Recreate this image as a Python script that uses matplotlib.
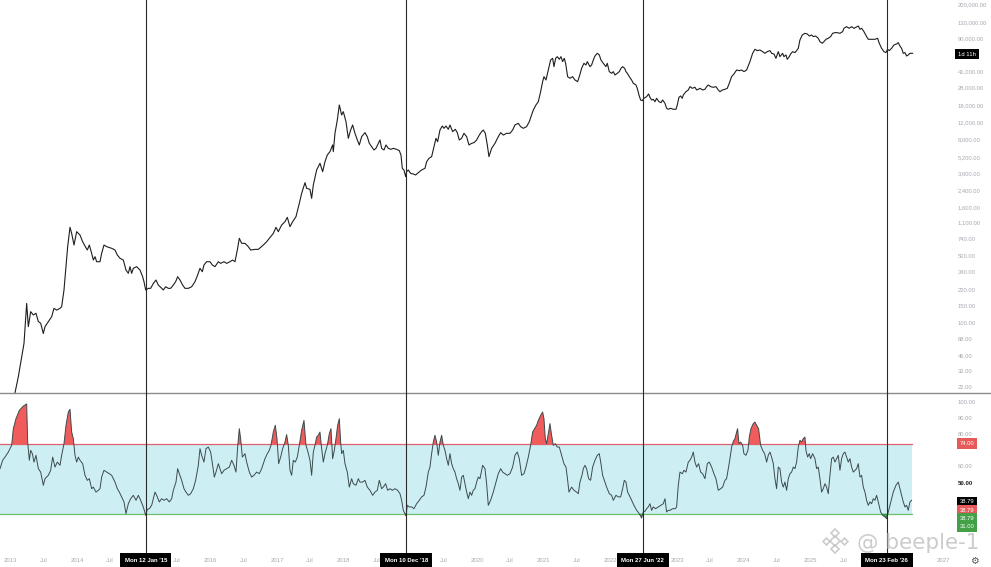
import matplotlib
matplotlib.use("Agg")
import matplotlib.pyplot as plt
import numpy as np
from matplotlib.transforms import blended_transform_factory as blend
from matplotlib.lines import Line2D

plt.rcParams['font.family'] = ['Liberation Sans', 'DejaVu Sans']

# ---------------- data (decimal years) ----------------
price_years = [
    2012.844, 2012.95, 2013.03,
    2013.069, 2013.119, 2013.169, 2013.204, 2013.244, 2013.269, 2013.304, 2013.344, 2013.384, 2013.419,
    2013.454, 2013.494, 2013.519, 2013.569, 2013.619, 2013.654, 2013.694, 2013.744, 2013.769, 2013.804,
    2013.834, 2013.859, 2013.894, 2013.919, 2013.954, 2013.994, 2014.044, 2014.084, 2014.124, 2014.154,
    2014.184, 2014.219, 2014.244, 2014.269, 2014.294, 2014.344, 2014.369, 2014.404, 2014.444, 2014.519,
    2014.569, 2014.604, 2014.644, 2014.694, 2014.734, 2014.769, 2014.794, 2014.819, 2014.844, 2014.894,
    2014.944, 2014.984, 2015.004, 2015.029, 2015.069, 2015.104, 2015.144, 2015.184, 2015.219, 2015.254,
    2015.294, 2015.329, 2015.369, 2015.404, 2015.444, 2015.479, 2015.509, 2015.544, 2015.584, 2015.619,
    2015.669, 2015.719, 2015.769, 2015.809, 2015.844, 2015.879, 2015.904, 2015.944, 2015.994, 2016.029,
    2016.069, 2016.119, 2016.154, 2016.204, 2016.244, 2016.294, 2016.334, 2016.369, 2016.404, 2016.434,
    2016.469, 2016.519, 2016.569, 2016.604, 2016.669, 2016.719, 2016.794, 2016.844,
    2016.944, 2016.984, 2017.019, 2017.069, 2017.119, 2017.154, 2017.194, 2017.234, 2017.284, 2017.334,
    2017.369, 2017.419, 2017.444, 2017.494, 2017.519, 2017.544, 2017.594, 2017.644, 2017.684, 2017.719,
    2017.754, 2017.794, 2017.834, 2017.844, 2017.869, 2017.904, 2017.934, 2017.969, 2017.994, 2018.034,
    2018.069, 2018.104, 2018.134, 2018.169, 2018.204, 2018.234, 2018.269, 2018.319, 2018.354, 2018.384,
    2018.419, 2018.454, 2018.484, 2018.519, 2018.544, 2018.569, 2018.604, 2018.634, 2018.669, 2018.704,
    2018.744, 2018.794, 2018.834, 2018.859, 2018.879, 2018.904, 2018.929, 2018.944, 2018.969, 2019.004,
    2019.044, 2019.079, 2019.119, 2019.169, 2019.219, 2019.244, 2019.279, 2019.319, 2019.354, 2019.384,
    2019.409, 2019.444, 2019.479, 2019.504, 2019.534, 2019.569, 2019.594, 2019.634, 2019.674, 2019.704,
    2019.734, 2019.769, 2019.804, 2019.844, 2019.879, 2019.919, 2019.954, 2019.994, 2020.034, 2020.069,
    2020.094, 2020.124, 2020.154, 2020.179, 2020.219, 2020.269, 2020.319, 2020.354, 2020.394, 2020.444,
    2020.494, 2020.534, 2020.569, 2020.619, 2020.654, 2020.694, 2020.744, 2020.784,
    2020.844, 2020.884, 2020.919, 2020.954, 2020.984, 2021.004, 2021.034, 2021.069, 2021.104, 2021.134,
    2021.154, 2021.179, 2021.204, 2021.234, 2021.259, 2021.284, 2021.309, 2021.329, 2021.359, 2021.394,
    2021.434, 2021.469, 2021.509, 2021.534, 2021.569, 2021.604, 2021.634, 2021.654, 2021.694, 2021.719,
    2021.744, 2021.769, 2021.804, 2021.834, 2021.859, 2021.894, 2021.934, 2021.954, 2021.984, 2022.019,
    2022.044, 2022.069, 2022.104, 2022.134, 2022.159, 2022.184, 2022.214, 2022.234, 2022.254, 2022.284,
    2022.319, 2022.344, 2022.384, 2022.404, 2022.429, 2022.454, 2022.479, 2022.504, 2022.544, 2022.574,
    2022.594, 2022.619, 2022.644, 2022.669, 2022.694, 2022.729, 2022.759, 2022.784, 2022.819, 2022.844,
    2022.869, 2022.904, 2022.944, 2022.984, 2023.004, 2023.029, 2023.054, 2023.079, 2023.094, 2023.134,
    2023.169, 2023.194, 2023.229, 2023.269, 2023.294, 2023.319, 2023.344, 2023.384, 2023.419, 2023.444,
    2023.469, 2023.504, 2023.544, 2023.584, 2023.619, 2023.644, 2023.684, 2023.719, 2023.754, 2023.784,
    2023.819, 2023.854, 2023.894, 2023.934, 2023.969, 2024.004, 2024.044, 2024.069, 2024.094, 2024.134,
    2024.169, 2024.204, 2024.244, 2024.284, 2024.319, 2024.354, 2024.394, 2024.419, 2024.454, 2024.484,
    2024.519, 2024.544, 2024.584, 2024.604, 2024.634, 2024.654, 2024.684, 2024.704, 2024.734, 2024.769,
    2024.794, 2024.819, 2024.844, 2024.879, 2024.919, 2024.954, 2024.984, 2025.019, 2025.044, 2025.079,
    2025.119, 2025.144, 2025.179, 2025.204, 2025.234, 2025.269, 2025.304, 2025.334, 2025.369, 2025.404,
    2025.444, 2025.484, 2025.504, 2025.544, 2025.584, 2025.619, 2025.654, 2025.684, 2025.719, 2025.744,
    2025.769, 2025.804, 2025.844, 2025.869, 2025.919, 2025.969, 2026.009, 2026.034, 2026.069, 2026.104,
    2026.134, 2026.159, 2026.184, 2026.219, 2026.254, 2026.294, 2026.319, 2026.344, 2026.369, 2026.394,
    2026.419, 2026.444, 2026.469, 2026.494, 2026.534,
]
price_values = [
    12.5, 13.4, 16.0,
    19.2, 28.2, 45.4, 62.4, 162, 93, 133, 123, 128, 105,
    101, 79, 93, 105, 118, 144, 138, 144, 150, 223,
    389, 627, 995, 861, 652, 897, 828, 706, 627, 579,
    652, 535, 456, 494, 438, 438, 535, 652, 627, 603,
    579, 514, 475, 456, 359, 332, 389, 332, 374, 389,
    359, 306, 272, 223, 232, 232, 261, 283, 251, 238,
    223, 241, 232, 232, 251, 272, 306, 283, 251, 232,
    232, 241, 272, 319, 374, 345, 405, 438, 438, 405,
    389, 438, 421, 438, 421, 438, 456, 438, 579, 765,
    679, 679, 627, 579, 588, 588, 652, 706,
    861, 995, 897, 1051, 1138, 1262, 1010, 1138, 1282, 1763,
    2239, 2886, 2523, 2462, 1986, 2730, 3908, 4581, 3752, 4764,
    5588, 6053, 7096, 6053, 9370, 12880, 18420, 14510, 15710, 12380,
    8318, 10140, 11430, 9370, 7993, 7096, 8650, 9520, 8650, 7380,
    6820, 6295, 6548, 7380, 7993, 6548, 6295, 7096, 6548, 6395,
    6548, 6395, 6196, 5588, 4064, 3908, 3333, 3752, 3908, 3606,
    3550, 3467, 3665, 3908, 4064, 4764, 5160, 5370, 6820, 8318,
    7680, 10140, 11160, 10560, 11160, 10310, 11430, 9750, 10310, 9520,
    7993, 8318, 9370, 8650, 7096, 7380, 7500, 7993, 8995, 9750,
    10140, 9370, 7096, 5370, 6548, 7380, 8650, 9520, 8995, 9370,
    9370, 10140, 11430, 11890, 10990, 10560, 10990, 12380,
    16350, 18420, 19930, 25300, 32140, 36220, 33450, 42450, 53900, 56080,
    46000, 56080, 58350, 54800, 58350, 51860, 56080, 49780, 36220, 34830,
    36220, 33450, 32140, 36220, 44190, 49780, 47860, 51860, 46000, 47860,
    53900, 59300, 63200, 60800, 53900, 49780, 46000, 49780, 40810, 39240,
    40810, 37670, 39240, 40810, 44190, 46000, 44190, 40810, 39240, 36220,
    33450, 30900, 29720, 27420, 23380, 20750, 20420, 21600, 22490, 23970,
    22130, 20750, 21090, 19930, 21600, 19930, 19480, 20750, 19170, 17020,
    16630, 17020, 16630, 16630, 18420, 22130, 22850, 21600, 23380, 25300,
    26360, 28530, 27420, 28110, 26360, 26790, 27420, 26360, 26790, 28530,
    29720, 28530, 28110, 28530, 26360, 25300, 26360, 26790, 27420, 30900,
    36220, 38620, 42450, 41780, 42450, 40810, 42450, 46770, 51860, 63200,
    69500, 67420, 68400, 65770, 63200, 65770, 67420, 63200, 62230, 56080,
    65770, 58350, 63200, 58350, 60800, 54800, 58350, 62230, 65770, 64270,
    67420, 71240, 86900, 97950, 101850, 100250, 95500, 97950, 94170, 95500,
    90400, 83500, 80300, 83500, 88300, 90400, 94170, 101850, 103500, 103500,
    101850, 106000, 114800, 119400, 114800, 119400, 114800, 117500, 121300, 112100,
    114800, 106000, 94170, 88300, 88300, 88300, 90400, 80300, 71240, 65770,
    64270, 69500, 67420, 71240, 77100, 79000, 81500, 75300, 71240, 63200,
    64270, 59300, 60800, 63200, 63200,
]

rsi_years = [
    2012.844, 2012.884, 2012.919, 2012.969, 2013.019, 2013.044, 2013.084, 2013.134, 2013.194, 2013.244,
    2013.259, 2013.284, 2013.304, 2013.329, 2013.354, 2013.384, 2013.419, 2013.454, 2013.494, 2013.519,
    2013.569, 2013.604, 2013.634, 2013.669, 2013.704, 2013.744, 2013.769, 2013.804, 2013.834, 2013.869,
    2013.894, 2013.919, 2013.944, 2013.969, 2013.994, 2014.019, 2014.044, 2014.084, 2014.119, 2014.154,
    2014.184, 2014.219, 2014.244, 2014.284, 2014.319, 2014.344, 2014.369, 2014.404, 2014.444, 2014.484,
    2014.519, 2014.569, 2014.604, 2014.634, 2014.669, 2014.704, 2014.734, 2014.769, 2014.804, 2014.844,
    2014.884, 2014.919, 2014.944, 2014.984, 2015.009, 2015.029, 2015.054, 2015.084, 2015.119, 2015.144,
    2015.169, 2015.194, 2015.234, 2015.269, 2015.304, 2015.344, 2015.384, 2015.419, 2015.444, 2015.484,
    2015.509, 2015.534, 2015.569, 2015.604, 2015.634, 2015.669, 2015.704, 2015.744, 2015.779, 2015.819,
    2015.844, 2015.869, 2015.904, 2015.934, 2015.969, 2016.004, 2016.034, 2016.059, 2016.084, 2016.119,
    2016.144, 2016.169, 2016.204, 2016.244, 2016.284, 2016.319, 2016.354, 2016.384, 2016.409, 2016.434,
    2016.454, 2016.479, 2016.519, 2016.544, 2016.584, 2016.619, 2016.654, 2016.694, 2016.734, 2016.769,
    2016.794, 2016.819, 2016.854, 2016.884, 2016.909, 2016.944, 2016.974, 2016.999, 2017.024, 2017.054,
    2017.084, 2017.119, 2017.144, 2017.169, 2017.194, 2017.219, 2017.244, 2017.274, 2017.304, 2017.334,
    2017.369, 2017.404, 2017.434, 2017.464, 2017.494, 2017.519, 2017.544, 2017.569, 2017.594, 2017.619,
    2017.644, 2017.669, 2017.694, 2017.719, 2017.754, 2017.784, 2017.809, 2017.834, 2017.859, 2017.884,
    2017.909, 2017.934, 2017.954, 2017.969, 2017.994, 2018.019, 2018.054, 2018.084, 2018.119, 2018.144,
    2018.184, 2018.219, 2018.244, 2018.284, 2018.319, 2018.354, 2018.394, 2018.434, 2018.469, 2018.504,
    2018.534, 2018.569, 2018.594, 2018.629, 2018.659, 2018.694, 2018.729, 2018.769, 2018.809, 2018.844,
    2018.869, 2018.894, 2018.919, 2018.934, 2018.954, 2018.984, 2019.019, 2019.054, 2019.094, 2019.134,
    2019.169, 2019.204, 2019.234, 2019.269, 2019.294, 2019.319, 2019.344, 2019.369, 2019.394, 2019.419,
    2019.444, 2019.469, 2019.494, 2019.519, 2019.544, 2019.569, 2019.594, 2019.619, 2019.644, 2019.669,
    2019.694, 2019.719, 2019.744, 2019.769, 2019.794, 2019.819, 2019.844, 2019.869, 2019.894, 2019.919,
    2019.944, 2019.969, 2019.994, 2020.019, 2020.044, 2020.084, 2020.119, 2020.144, 2020.169, 2020.204,
    2020.244, 2020.284, 2020.319, 2020.354, 2020.384, 2020.419, 2020.454, 2020.494, 2020.534, 2020.569,
    2020.604, 2020.634, 2020.669, 2020.704, 2020.734, 2020.769, 2020.804, 2020.834, 2020.869, 2020.894,
    2020.919, 2020.954, 2020.984, 2021.004, 2021.024, 2021.044, 2021.074, 2021.094, 2021.119, 2021.144,
    2021.174, 2021.204, 2021.234, 2021.269, 2021.304, 2021.334, 2021.354, 2021.379, 2021.419, 2021.454,
    2021.494, 2021.519, 2021.544, 2021.574, 2021.594, 2021.619, 2021.644, 2021.674, 2021.704, 2021.734,
    2021.769, 2021.804, 2021.834, 2021.859, 2021.884, 2021.919, 2021.944, 2021.984, 2022.019, 2022.044,
    2022.084, 2022.119, 2022.154, 2022.184, 2022.209, 2022.234, 2022.259, 2022.284, 2022.319, 2022.354,
    2022.394, 2022.434, 2022.469, 2022.494, 2022.519, 2022.544, 2022.569, 2022.594, 2022.619, 2022.644,
    2022.679, 2022.719, 2022.754, 2022.794, 2022.819, 2022.844, 2022.869, 2022.894, 2022.934, 2022.974,
    2022.994, 2023.019, 2023.044, 2023.079, 2023.104, 2023.134, 2023.169, 2023.194, 2023.219, 2023.244,
    2023.269, 2023.294, 2023.324, 2023.354, 2023.384, 2023.419, 2023.454, 2023.484, 2023.519, 2023.554,
    2023.584, 2023.619, 2023.654, 2023.684, 2023.719, 2023.744, 2023.769, 2023.794, 2023.819, 2023.844,
    2023.869, 2023.894, 2023.909, 2023.929, 2023.954, 2023.984, 2024.004, 2024.034, 2024.064, 2024.084,
    2024.109, 2024.144, 2024.169, 2024.194, 2024.224, 2024.254, 2024.284, 2024.314, 2024.344, 2024.369,
    2024.394, 2024.419, 2024.444, 2024.469, 2024.494, 2024.519, 2024.544, 2024.569, 2024.594, 2024.619,
    2024.644, 2024.669, 2024.694, 2024.719, 2024.744, 2024.769, 2024.794, 2024.819, 2024.844, 2024.869,
    2024.894, 2024.919, 2024.934, 2024.959, 2024.984, 2025.004, 2025.034, 2025.069, 2025.094, 2025.119,
    2025.144, 2025.169, 2025.194, 2025.219, 2025.244, 2025.269, 2025.294, 2025.319, 2025.344, 2025.369,
    2025.394, 2025.419, 2025.444, 2025.469, 2025.494, 2025.519, 2025.544, 2025.569, 2025.594, 2025.619,
    2025.644, 2025.669, 2025.694, 2025.719, 2025.744, 2025.769, 2025.794, 2025.819, 2025.844, 2025.869,
    2025.894, 2025.919, 2025.944, 2025.969, 2025.994, 2026.019, 2026.054, 2026.084, 2026.119, 2026.144,
    2026.169, 2026.194, 2026.219, 2026.244, 2026.284, 2026.319, 2026.344, 2026.369, 2026.394, 2026.419,
    2026.444, 2026.469, 2026.494, 2026.519,
]
rsi_values = [
    58.9, 64.1, 66.1, 69.2, 73.4, 83.7, 89.9, 95.0, 97.7, 99.0,
    75.4, 64.1, 70.3, 68.2, 63.0, 67.2, 58.9, 56.8, 48.6, 52.7,
    54.8, 57.9, 66.1, 59.9, 63.0, 61.0, 67.2, 74.4, 85.8, 94.0,
    95.7, 81.6, 77.5, 67.2, 63.0, 66.1, 64.1, 62.0, 54.8, 51.7,
    52.7, 46.5, 47.5, 44.4, 45.5, 46.5, 53.7, 57.9, 56.8, 55.8,
    54.8, 50.6, 46.5, 44.4, 41.4, 38.3, 31.0, 37.2, 40.3, 42.4,
    39.3, 42.4, 40.3, 36.2, 33.1, 30.0, 33.7, 34.1, 36.2, 40.3,
    44.4, 42.4, 38.3, 40.3, 39.3, 40.3, 38.3, 40.3, 45.5, 50.6,
    58.9, 55.8, 51.7, 46.5, 44.4, 42.4, 43.4, 46.5, 51.7, 61.0,
    71.3, 67.2, 63.0, 71.3, 72.3, 69.2, 61.0, 53.7, 56.8, 62.0,
    58.9, 55.8, 57.9, 58.9, 59.9, 64.1, 61.0, 56.8, 72.3, 83.7,
    77.5, 66.1, 68.2, 63.0, 56.8, 53.7, 54.8, 56.8, 55.8, 58.9,
    62.0, 65.1, 68.2, 70.3, 73.4, 81.6, 85.8, 77.5, 62.0, 66.1,
    71.3, 75.4, 80.0, 73.4, 57.9, 54.8, 64.1, 63.0, 66.1, 73.4,
    82.7, 88.8, 73.4, 69.2, 64.1, 54.8, 69.2, 73.4, 78.5, 79.6,
    81.6, 71.3, 63.0, 68.2, 73.4, 80.6, 83.7, 65.1, 70.3, 77.5,
    85.8, 89.9, 75.4, 68.2, 70.3, 62.0, 56.8, 47.5, 52.7, 49.6,
    48.6, 52.7, 50.6, 50.6, 51.7, 47.5, 45.5, 42.4, 44.4, 45.5,
    51.7, 46.5, 47.5, 49.6, 45.5, 46.5, 45.5, 46.5, 45.5, 43.4,
    39.3, 33.1, 31.0, 29.6, 36.2, 35.2, 35.2, 34.1, 37.2, 39.3,
    41.4, 42.4, 47.5, 56.8, 59.9, 68.2, 75.4, 79.6, 75.4, 67.2,
    75.4, 79.6, 73.4, 70.3, 65.1, 61.0, 68.2, 62.0, 58.9, 56.8,
    52.7, 49.6, 45.5, 53.7, 54.8, 49.6, 44.4, 40.3, 44.4, 42.4,
    45.5, 46.5, 50.6, 53.7, 52.7, 61.0, 58.9, 49.6, 36.2, 39.3,
    44.4, 50.6, 55.8, 58.9, 56.8, 55.8, 54.8, 55.8, 59.9, 67.2,
    69.2, 65.1, 54.8, 55.8, 59.9, 66.1, 73.4, 81.6, 84.1, 85.8,
    88.8, 91.9, 94.0, 89.9, 77.5, 74.4, 81.6, 86.8, 79.6, 73.4,
    74.4, 72.3, 72.3, 67.2, 62.0, 59.9, 53.7, 44.4, 47.5, 45.5,
    44.4, 43.4, 50.6, 54.8, 58.9, 61.0, 58.9, 52.7, 51.7, 59.9,
    64.1, 67.2, 68.2, 62.0, 54.8, 50.6, 47.5, 43.4, 42.4, 39.3,
    42.4, 41.4, 41.4, 46.5, 51.7, 50.6, 44.4, 42.4, 39.3, 36.2,
    33.1, 31.0, 28.3, 32.1, 32.5, 34.1, 35.2, 37.2, 33.1, 35.2,
    34.1, 35.2, 36.2, 37.2, 40.3, 32.1, 33.1, 33.1, 34.1, 34.1,
    35.2, 48.6, 56.8, 55.8, 57.9, 56.8, 63.0, 64.1, 66.1, 69.2,
    63.0, 59.9, 62.0, 56.8, 55.8, 52.7, 62.0, 63.0, 59.9, 55.8,
    52.7, 45.5, 46.5, 47.5, 51.7, 52.7, 58.9, 65.1, 72.3, 75.8,
    77.5, 81.6, 83.7, 74.4, 75.4, 73.4, 68.2, 67.2, 70.3, 78.5,
    83.7, 86.8, 87.8, 85.8, 83.7, 73.4, 70.3, 68.2, 63.0, 67.2,
    69.2, 66.1, 62.0, 52.7, 46.5, 59.9, 58.9, 50.6, 47.5, 50.6,
    45.5, 52.7, 55.8, 56.8, 59.9, 58.9, 63.0, 72.3, 76.5, 75.4,
    77.5, 78.5, 70.3, 66.1, 68.2, 65.1, 68.2, 65.1, 58.9, 59.9,
    52.7, 44.4, 46.5, 49.6, 47.5, 43.4, 54.8, 65.1, 66.1, 63.0,
    65.1, 67.2, 57.9, 65.1, 68.2, 69.2, 66.1, 63.0, 65.1, 59.9,
    56.8, 57.9, 58.9, 62.0, 53.7, 54.8, 47.5, 44.4, 39.3, 36.2,
    38.3, 37.2, 40.3, 39.3, 42.4, 38.3, 32.1, 30.0, 29.0, 27.9,
    32.1, 36.2, 40.3, 44.4, 48.6, 50.6, 46.5, 42.4, 38.3, 35.2,
    36.2, 33.1, 38.3, 39.3,
]

event_dates = [2015.030, 2018.940, 2022.486, 2026.145]
event_labels = ["Mon 12 Jan '15", "Mon 10 Dec '18", "Mon 27 Jun '22", "Mon 23 Feb '26"]

# visible price scale labels (61,000 is hidden behind the countdown box)
price_ticks = [200000, 130000, 90000, 41000, 28000, 18000, 12000, 8000, 5200, 3600, 2400,
               1600, 1100, 740, 500, 340, 220, 150, 100, 68, 46, 32, 22]
rsi_ticks = [100, 90, 80, 60, 50]
rsi_upper, rsi_lower = 74, 31
rsi_last = 38.79

# visible time-axis labels (those covered by the date boxes are omitted)
year_ticks = [2013, 2014, 2016, 2017, 2018, 2020, 2021, 2022, 2023, 2024, 2025, 2027]
jul_years = [2013, 2014, 2015, 2016, 2017, 2018, 2019, 2020, 2021, 2023, 2024, 2025]

# ---------------- figure ----------------
W, H = 991, 567
fig = plt.figure(figsize=(W / 100, H / 100), dpi=100)
fig.patch.set_facecolor('white')

def fy(py):
    return 1 - py / H

ax1 = fig.add_axes([0, fy(393), 945 / W, 393 / H])
ax2 = fig.add_axes([0, fy(548), 945 / W, (548 - 393) / H])
XMIN, XMAX = 2012.844, 2027.02
for ax in (ax1, ax2):
    ax.set_xlim(XMIN, XMAX)
    for s in ax.spines.values():
        s.set_visible(False)
    ax.set_xticks([])
    ax.set_yticks([])
    ax.patch.set_alpha(0)

# price pane
ax1.set_yscale('log')
ax1.set_ylim(19.1, 225500)
ax1.plot(price_years, price_values, color='#1e1e1e', lw=0.8, solid_joinstyle='round')
ax1.set_yticks([])
ax1.minorticks_off()

# RSI pane
ax2.set_ylim(9.75, 105.8)
rx = np.array(rsi_years)
rv = np.array(rsi_values)
ax2.fill_between([rx[0], rx[-1]], rsi_lower, rsi_upper, color='#cdeff4', lw=0, zorder=1)
ax2.plot([rx[0], rx[-1]], [rsi_upper] * 2, color='#e06070', lw=0.9, zorder=2)
ax2.plot([rx[0], rx[-1]], [rsi_lower] * 2, color='#6cbf6c', lw=0.9, zorder=2)
ax2.fill_between(rx, rsi_upper, rv, where=rv > rsi_upper, interpolate=True,
                 color='#f05c5c', lw=0, zorder=3)
ax2.fill_between(rx, rsi_lower, rv, where=rv < rsi_lower, interpolate=True,
                 color='#3e9b46', lw=0, zorder=3)
ax2.plot(rx, rv, color='#3d4a4c', lw=0.7, zorder=4)

# pane separator
fig.add_artist(Line2D([0, 1], [fy(393), fy(393)], transform=fig.transFigure,
                      color='#8a8a8a', lw=1.0))

# vertical event lines
tx = blend(ax1.transData, fig.transFigure)
for d in event_dates:
    fig.add_artist(Line2D([d, d], [fy(0), fy(553)], transform=tx, color='#2a2a2a', lw=0.8, zorder=6))

# x-axis labels
lab_color = '#a6a9b0'
for y in year_ticks:
    fig.text(y, fy(560), str(y), transform=tx, ha='center', va='center',
             fontsize=4.3, color=lab_color, zorder=3)
for y in jul_years:
    fig.text(y + 0.496, fy(560), 'Jul', transform=tx, ha='center', va='center',
             fontsize=4.3, color=lab_color, zorder=3)
for d, lab in zip(event_dates, event_labels):
    fig.text(d, fy(560), lab, transform=tx, ha='center', va='center', fontsize=4.3,
             color='white', fontweight='bold', zorder=7,
             bbox=dict(boxstyle='square,pad=0.75', fc='black', ec='none'))

# right price axis
tp = blend(fig.transFigure, ax1.transData)
for v in price_ticks:
    fig.text(958 / W, v, f"{v:,.2f}", transform=tp, ha='left', va='center',
             fontsize=4.2, color=lab_color, zorder=3)
fig.text(967 / W, fy(54), '1d 11h', ha='center', va='center', fontsize=4.2, color='white',
         zorder=7, bbox=dict(boxstyle='square,pad=0.5', fc='black', ec='none'))

# right RSI axis
tr = blend(fig.transFigure, ax2.transData)
for v in rsi_ticks:
    bold = v == 50
    fig.text(958 / W, v, f"{v:.2f}", transform=tr, ha='left', va='center',
             fontsize=4.4 if bold else 4.2, color='#222222' if bold else lab_color,
             fontweight='bold' if bold else 'normal', zorder=3)

def rbox(py, text, fc):
    fig.text(967 / W, fy(py), text, ha='center', va='center', fontsize=4.2, color='white',
             zorder=7, bbox=dict(boxstyle='square,pad=0.45', fc=fc, ec='none'))

rbox(443.5, f"{rsi_upper:.2f}", '#e65a5a')
rbox(501.7, f"{rsi_last:.2f}", '#000000')
rbox(510.0, f"{rsi_last:.2f}", '#e65a5a')
rbox(518.3, f"{rsi_last:.2f}", '#43a047')
rbox(526.7, f"{rsi_lower:.2f}", '#43a047')

# settings icon
fig.text(974 / W, fy(561), '\u2699', ha='center', va='center', fontsize=7,
         color='#555555', family='DejaVu Sans')

# watermark
wm = '#c3c3c3'
fig.text(857 / W, fy(543), '@ beeple-1', ha='left', va='center', fontsize=15.5,
         color=wm, alpha=0.85, zorder=8, family='DejaVu Sans')
cx, cy = 835, 541
for dx, dy, s in [(0, 0, 5.5), (-9, 0, 3.5), (9, 0, 3.5), (0, -8, 4.5), (0, 8, 4.5)]:
    fig.add_artist(Line2D([(cx + dx) / W], [fy(cy + dy)], transform=fig.transFigure,
                          marker='D', markersize=s, mfc='none', mec=wm, mew=1.2,
                          alpha=0.85, zorder=8))

fig.savefig('out.png', dpi=100, facecolor='white')
